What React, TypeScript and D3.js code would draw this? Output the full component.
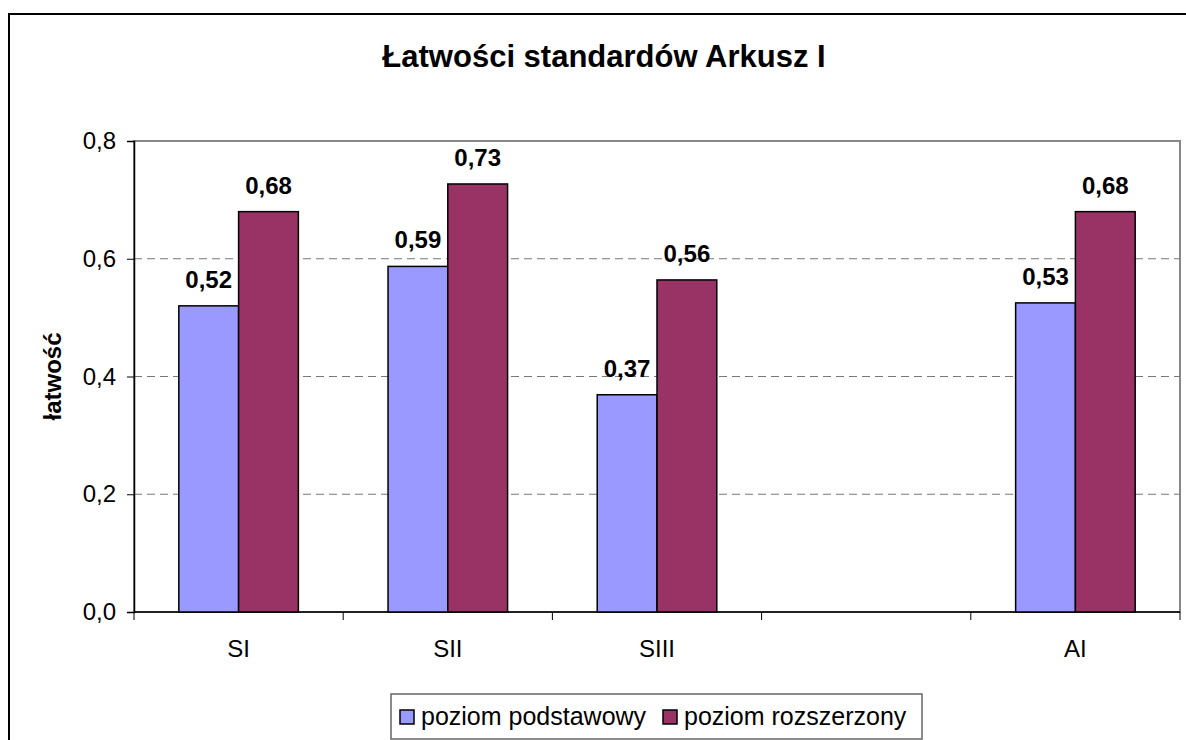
import React, { useEffect, useRef } from "react";
import * as d3 from "d3";

const categories = ["SI", "SII", "SIII", "", "AI"];
const seriesNames = ["poziom podstawowy", "poziom rozszerzony"];
const podstawowy = [0.52, 0.587, 0.369, null, 0.525];
const rozszerzony = [0.68, 0.727, 0.564, null, 0.68];
const yTicks = [0, 0.2, 0.4, 0.6, 0.8];
const colors = ["#9999FF", "#993366"];

const FONT = "'Liberation Sans', Arial, sans-serif";

const App = () => {
  const svgRef = useRef<SVGSVGElement>(null);

  useEffect(() => {
    const svg = d3.select(svgRef.current);
    svg.selectAll("*").remove();

    const width = 1186;
    const height = 740;
    const margin = { top: 141, right: 6, bottom: 128, left: 134 };
    const innerWidth = width - margin.left - margin.right;
    const innerHeight = height - margin.top - margin.bottom;

    svg.append("rect").attr("width", width).attr("height", height).attr("fill", "#fff");

    // outer chart frame (runs off the right and bottom edge)
    svg
      .append("rect")
      .attr("x", 9)
      .attr("y", 14)
      .attr("width", 1300)
      .attr("height", 900)
      .attr("fill", "none")
      .attr("stroke", "#000")
      .attr("stroke-width", 2);

    svg
      .append("text")
      .attr("x", 604)
      .attr("y", 67)
      .attr("text-anchor", "middle")
      .attr("font-family", FONT)
      .attr("font-weight", "bold")
      .attr("font-size", 31)
      .text("Łatwości standardów Arkusz I");

    const g = svg.append("g").attr("transform", `translate(${margin.left},${margin.top})`);

    const x = d3.scaleBand().domain(categories.map((c, i) => String(i))).range([0, innerWidth]);
    const y = d3.scaleLinear().domain([0, 0.8]).range([innerHeight, 0]);

    // gap width 150% of one bar
    const groupWidth = x.bandwidth() / (2 + 1.5);
    const xSub = d3
      .scaleBand()
      .domain(["0", "1"])
      .range([groupWidth * 0.75, groupWidth * 2.75]);

    // plot frame
    g.append("rect")
      .attr("width", innerWidth)
      .attr("height", innerHeight)
      .attr("fill", "none")
      .attr("stroke", "#888")
      .attr("stroke-width", 2);

    // gridlines
    g.selectAll(".grid")
      .data(yTicks.filter((t) => t > 0 && t < 0.8))
      .enter()
      .append("line")
      .attr("x1", 0)
      .attr("x2", innerWidth)
      .attr("y1", (d) => y(d))
      .attr("y2", (d) => y(d))
      .attr("stroke", "#777")
      .attr("stroke-width", 1)
      .attr("stroke-dasharray", "8,5");

    // y axis
    const yAxis = g
      .append("g")
      .call(
        d3
          .axisLeft(y)
          .tickValues(yTicks)
          .tickSize(7)
          .tickPadding(11)
          .tickFormat((d) => d3.format(".1f")(d as number).replace(".", ","))
      );
    yAxis.select(".domain").attr("stroke", "#000").attr("stroke-width", 1.5);
    yAxis.selectAll(".tick line").attr("stroke", "#000");
    yAxis
      .selectAll("text")
      .attr("font-family", FONT)
      .attr("font-size", 24)
      .attr("fill", "#000");

    // x axis
    const xAxis = g.append("g").attr("transform", `translate(0,${innerHeight})`);
    xAxis
      .append("line")
      .attr("x1", 0)
      .attr("x2", innerWidth)
      .attr("stroke", "#000")
      .attr("stroke-width", 1.5);
    xAxis
      .selectAll(".xt")
      .data(d3.range(categories.length + 1))
      .enter()
      .append("line")
      .attr("x1", (i) => i * x.step())
      .attr("x2", (i) => i * x.step())
      .attr("y1", 0)
      .attr("y2", 8)
      .attr("stroke", "#000");
    xAxis
      .selectAll(".xl")
      .data(categories)
      .enter()
      .append("text")
      .attr("x", (d, i) => (x(String(i)) as number) + x.bandwidth() / 2)
      .attr("y", 45)
      .attr("text-anchor", "middle")
      .attr("font-family", FONT)
      .attr("font-size", 24)
      .text((d) => d);

    // axis title
    svg
      .append("text")
      .attr("transform", `translate(61,${margin.top + innerHeight / 2}) rotate(-90)`)
      .attr("text-anchor", "middle")
      .attr("font-family", FONT)
      .attr("font-weight", "bold")
      .attr("font-size", 24)
      .text("łatwość");

    const barData = categories
      .flatMap((c, i) => [podstawowy[i], rozszerzony[i]].map((v, s) => ({ i, s, v })))
      .filter((d) => d.v !== null) as { i: number; s: number; v: number }[];

    const bars = g
      .selectAll(".bar")
      .data(barData)
      .enter()
      .append("g")
      .attr("transform", (d) => `translate(${x(String(d.i))},0)`);

    bars
      .append("rect")
      .attr("x", (d) => xSub(String(d.s)) as number)
      .attr("y", (d) => y(d.v))
      .attr("width", xSub.bandwidth())
      .attr("height", (d) => innerHeight - y(d.v))
      .attr("fill", (d) => colors[d.s])
      .attr("stroke", "#000")
      .attr("stroke-width", 1.5);

    bars
      .append("text")
      .attr("x", (d) => (xSub(String(d.s)) as number) + xSub.bandwidth() / 2)
      .attr("y", (d) => y(d.v) - 18)
      .attr("text-anchor", "middle")
      .attr("font-family", FONT)
      .attr("font-weight", "bold")
      .attr("font-size", 24)
      .text((d) => d3.format(".2f")(d.v).replace(".", ","));

    // legend
    const legend = svg.append("g").attr("transform", "translate(391,694)");
    legend
      .append("rect")
      .attr("width", 531)
      .attr("height", 45)
      .attr("fill", "#fff")
      .attr("stroke", "#666")
      .attr("stroke-width", 1.5);
    const offsets = [9, 272];
    seriesNames.forEach((name, s) => {
      const item = legend.append("g").attr("transform", `translate(${offsets[s]},0)`);
      item
        .append("rect")
        .attr("x", 0)
        .attr("y", 16)
        .attr("width", 14)
        .attr("height", 14)
        .attr("fill", colors[s])
        .attr("stroke", "#000")
        .attr("stroke-width", 1.5);
      item
        .append("text")
        .attr("x", 21)
        .attr("y", 31)
        .attr("font-family", FONT)
        .attr("font-size", 25)
        .text(name);
    });
  }, []);

  return (
    <svg
      ref={svgRef}
      width={1186}
      height={740}
      style={{ position: "absolute", left: 0, top: 0 }}
    ></svg>
  );
};

export default App;
